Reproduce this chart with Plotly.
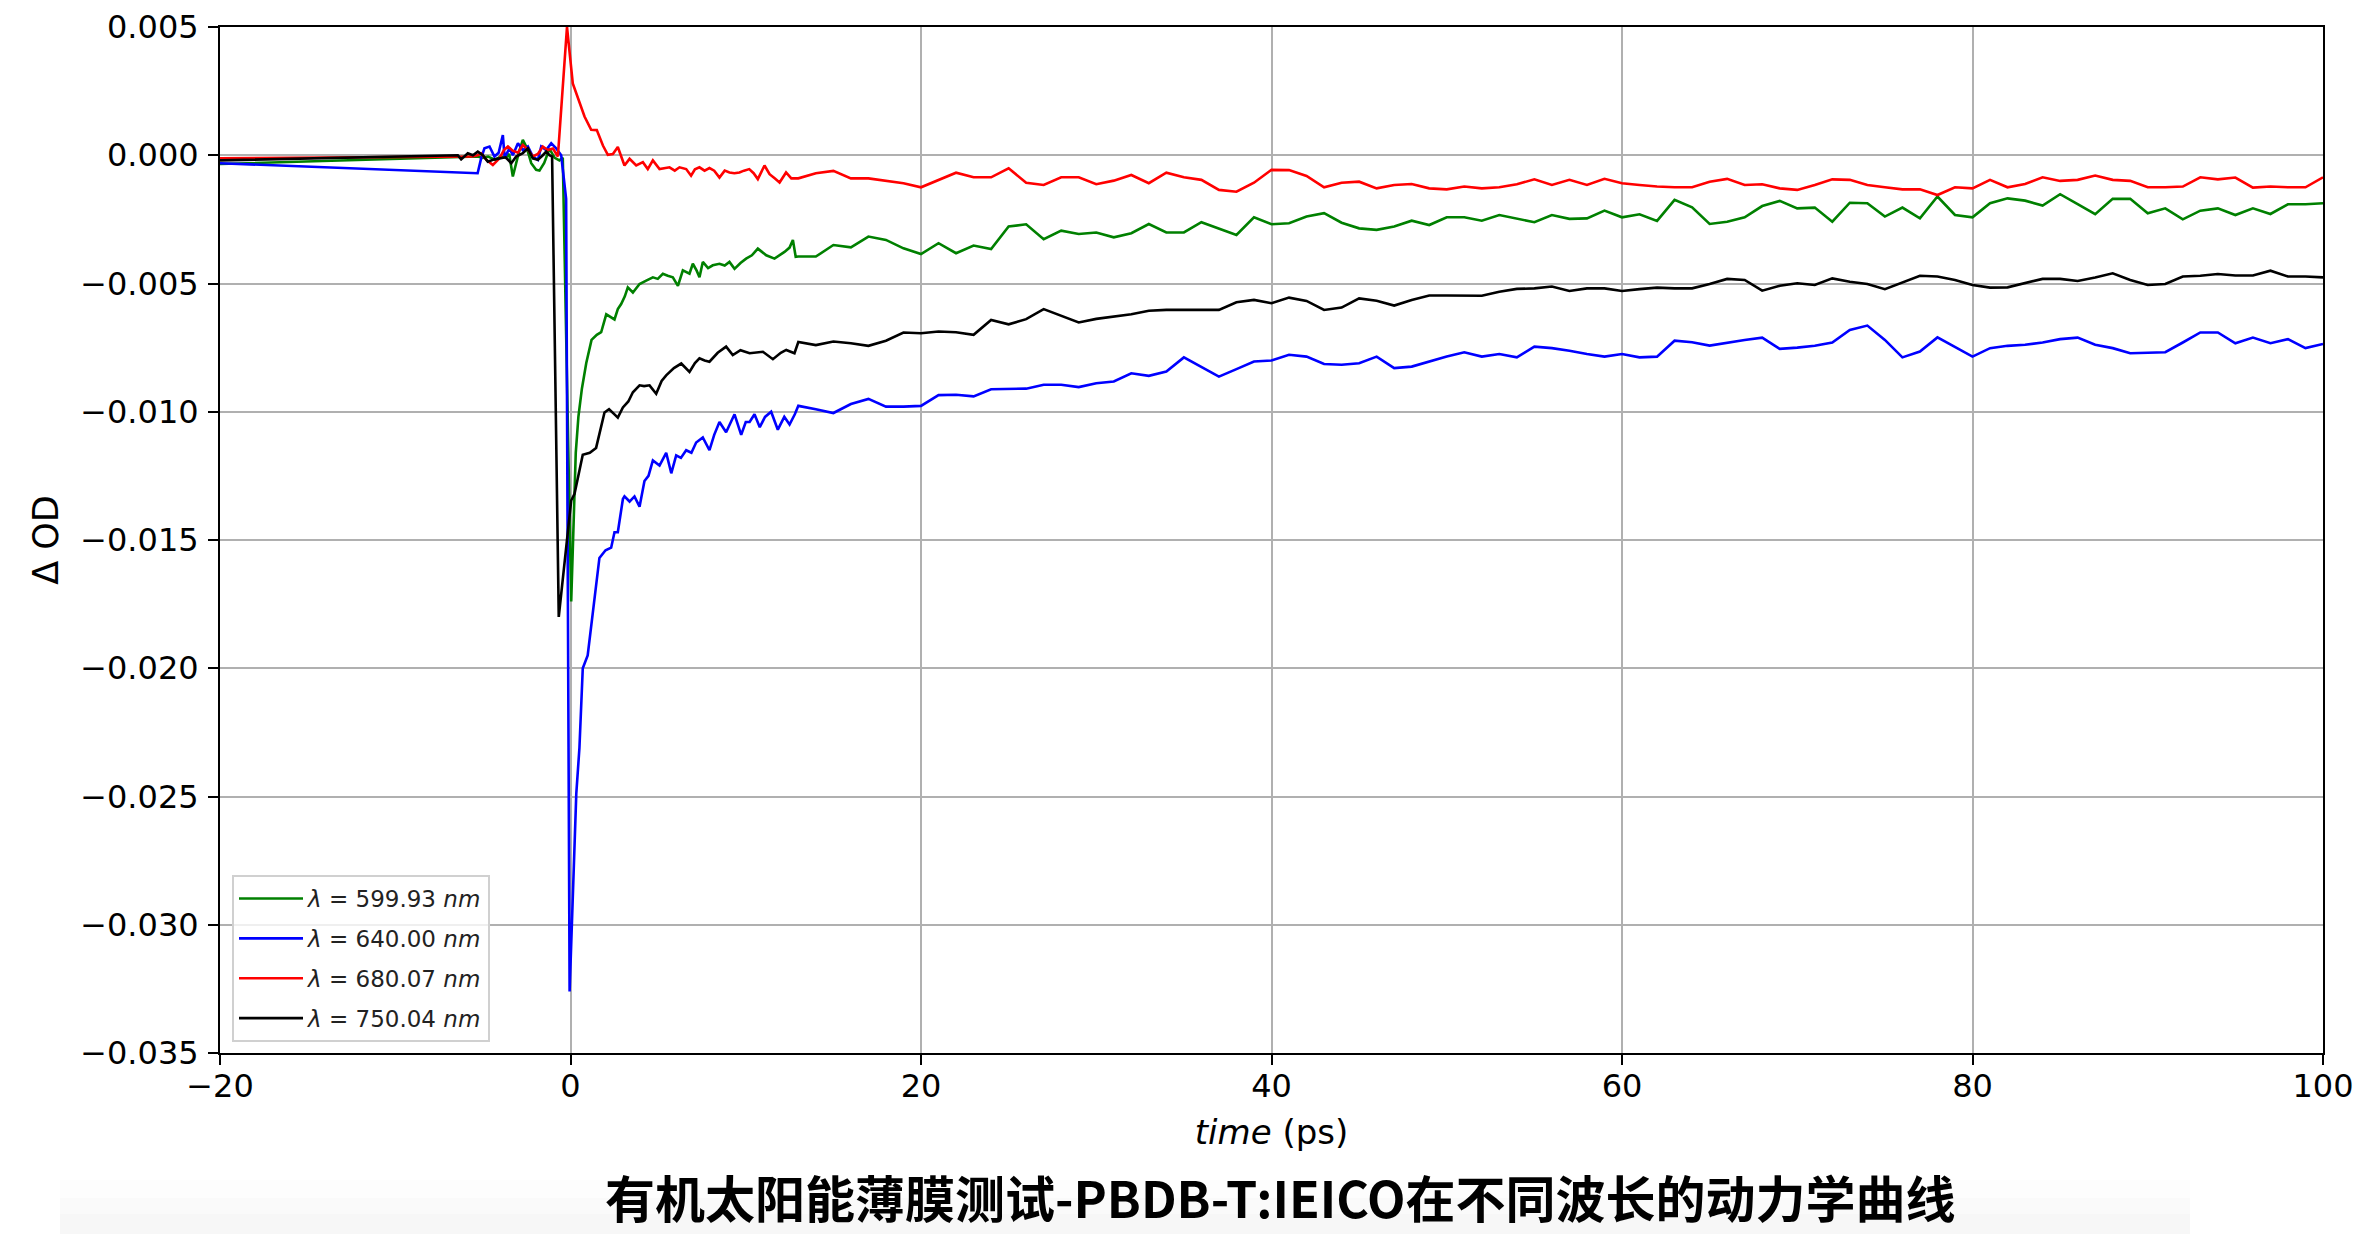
import plotly.graph_objects as go

# ---------------- data ----------------
tail_time = list(range(13, 101))

# lambda = 599.93 nm (green)
green_time_early = [-20, -5.6, -5.3, -5.0, -4.7, -4.3, -4.0, -3.7, -3.5, -3.29, -3.1, -2.95, -2.72, -2.5, -2.24,
                    -1.96, -1.77, -1.5, -1.2, -0.9, -0.63, -0.44, 0.04, 0.15, 0.3, 0.45, 0.65, 0.9, 1.2, 1.5,
                    1.75, 2.04, 2.3, 2.51, 2.7, 2.89, 3.1, 3.27, 3.56, 3.94, 4.32, 4.7, 4.98, 5.27, 5.55, 5.84,
                    6.13, 6.41, 6.79, 6.98, 7.2, 7.36, 7.55, 7.85, 8.12, 8.5, 8.8, 9.07, 9.36, 9.7, 10.02, 10.35,
                    10.69, 11.17, 11.64, 12.21, 12.5, 12.69, 12.85]
green_od_early = [-0.00034, -0.00008, -0.00005, -0.0001, -0.00005, -0.00018, -0.00005, -0.0001, 0.00005, -0.00083,
                  -0.0003, 0.0001, 0.0006, 0.0003, -0.00031, -0.00057, -0.0006, -0.0003, 0.00025, -0.0001, -0.0002,
                  -0.0001, -0.0174, -0.0150, -0.0116, -0.0102, -0.0091, -0.0081, -0.0072, -0.0070, -0.0069, -0.0062,
                  -0.0063, -0.0064, -0.0060, -0.0058, -0.0055, -0.00515, -0.00535, -0.00502, -0.00489, -0.00476,
                  -0.00482, -0.00462, -0.0047, -0.00476, -0.00509, -0.00449, -0.00462, -0.00423, -0.0045, -0.00476,
                  -0.00416, -0.0044, -0.00429, -0.00423, -0.0043, -0.00416, -0.00443, -0.0042, -0.00403, -0.0039,
                  -0.00364, -0.0039, -0.00403, -0.00377, -0.0036, -0.0033, -0.00396]
green_od_tail = [-0.00395, -0.00395, -0.0035, -0.00359, -0.00317, -0.0033, -0.00363, -0.00385, -0.00343, -0.00382,
                 -0.00352, -0.00366, -0.00278, -0.00269, -0.00327, -0.00294, -0.00307, -0.00301, -0.0032, -0.00304,
                 -0.00268, -0.00301, -0.00301, -0.00261, -0.00285, -0.00311, -0.00242, -0.00269, -0.00265, -0.00239,
                 -0.00226, -0.00263, -0.00285, -0.00291, -0.00278, -0.00255, -0.00272, -0.00242, -0.00242, -0.00255,
                 -0.00233, -0.00246, -0.00261, -0.00233, -0.00248, -0.00246, -0.00216, -0.00242, -0.0023, -0.00256,
                 -0.00174, -0.00203, -0.00268, -0.00259, -0.00242, -0.00198, -0.00178, -0.00207, -0.00204, -0.00259,
                 -0.00185, -0.00187, -0.00239, -0.00204, -0.00246, -0.00161, -0.00233, -0.00242, -0.00187, -0.00168,
                 -0.00177, -0.00196, -0.00152, -0.00191, -0.0023, -0.0017, -0.0017, -0.00226, -0.00207, -0.0025,
                 -0.00216, -0.00207, -0.00233, -0.00207, -0.00229, -0.00191, -0.00191, -0.00187]

# lambda = 640.00 nm (blue)
blue_time_early = [-20, -5.3, -5.1, -4.91, -4.62, -4.34, -4.1, -3.86, -3.76, -3.48, -3.29, -3.0, -2.72, -2.43, -2.15,
                   -1.86, -1.67, -1.39, -1.1, -0.82, -0.53, -0.25, -0.05, 0.33, 0.51, 0.70, 0.98, 1.37, 1.65, 2.0,
                   2.32, 2.51, 2.70, 2.99, 3.08, 3.37, 3.65, 3.94, 4.22, 4.45, 4.70, 5.08, 5.46, 5.75, 6.03, 6.3,
                   6.6, 6.9, 7.17, 7.55, 7.93, 8.2, 8.5, 8.88, 9.36, 9.74, 10.0, 10.22, 10.5, 10.8, 11.1, 11.45,
                   11.83, 12.2, 12.5, 12.8]
blue_od_early = [-0.00031, -0.0007, -0.00012, 0.00027, 0.00034, -0.00005, 0.0001, 0.00079, -0.00008, 0.00027, 0.0,
                 0.00047, 0.0002, 0.00034, -0.00005, -0.00018, 0.00034, 0.0002, 0.00047, 0.00027, 0.0, -0.0017,
                 -0.0326, -0.0249, -0.0231, -0.0200, -0.0195, -0.0173, -0.0157, -0.0154, -0.0153, -0.0147, -0.0147,
                 -0.0134, -0.0133, -0.0135, -0.0133, -0.0137, -0.0127, -0.0125, -0.0119, -0.0121, -0.0116, -0.0124,
                 -0.0117, -0.0118, -0.0115, -0.0116, -0.0112, -0.0110, -0.0115, -0.0109, -0.0104, -0.0108, -0.0101,
                 -0.0109, -0.0104, -0.0104, -0.0101, -0.0106, -0.0102, -0.0100, -0.0107, -0.0102, -0.0105, -0.0101]
blue_od_tail = [-0.00977, -0.0099, -0.01005, -0.0097, -0.0095, -0.0098, -0.0098, -0.00977, -0.00935, -0.00934,
                -0.0094, -0.00912, -0.00912, -0.0091, -0.00895, -0.00895, -0.00904, -0.00889, -0.00882, -0.0085,
                -0.0086, -0.00843, -0.00788, -0.00824, -0.00863, -0.00834, -0.00804, -0.008, -0.00778, -0.00785,
                -0.00814, -0.00817, -0.00811, -0.00785, -0.0083, -0.00824, -0.00804, -0.00785, -0.00768, -0.00785,
                -0.00775, -0.00788, -0.00746, -0.00752, -0.00762, -0.00775, -0.00785, -0.00775, -0.00788, -0.00785,
                -0.00723, -0.00729, -0.00742, -0.0073, -0.0072, -0.00711, -0.00755, -0.0075, -0.00743, -0.0073,
                -0.00681, -0.00664, -0.0072, -0.00788, -0.00765, -0.0071, -0.00746, -0.00785, -0.00752, -0.00743,
                -0.00739, -0.0073, -0.00717, -0.00711, -0.00739, -0.00752, -0.00772, -0.00769, -0.00768, -0.0073,
                -0.00691, -0.00691, -0.00733, -0.00711, -0.00733, -0.00717, -0.00752, -0.00736]

# lambda = 680.07 nm (red)
red_time_early = [-20, -5.6, -5.3, -5.1, -4.8, -4.43, -4.05, -3.8, -3.57, -3.3, -3.0, -2.72, -2.43, -2.15, -1.86,
                  -1.58, -1.3, -1.0, -0.72, -0.2, 0.13, 0.5, 0.8, 1.18, 1.5, 1.85, 2.13, 2.42, 2.7, 3.08, 3.37,
                  3.75, 4.13, 4.41, 4.7, 5.08, 5.4, 5.65, 5.95, 6.22, 6.6, 6.88, 7.1, 7.36, 7.65, 7.93, 8.2, 8.5,
                  8.8, 9.07, 9.35, 9.64, 9.9, 10.2, 10.45, 10.69, 11.07, 11.36, 11.65, 11.93, 12.3, 12.6]
red_od_early = [-0.00012, -0.00005, 0.0, 0.00007, -0.00018, -0.00038, -0.00012, 0.0002, 0.00034, 0.00018, 0.0001,
                0.0004, 0.00022, -0.00005, 0.00005, 0.00034, 0.0002, 0.00026, -0.00005, 0.0050, 0.0028, 0.0021,
                0.00151, 0.00099, 0.00098, 0.00038, 0.00002, 0.00005, 0.00032, -0.0004, -0.00014, -0.0004, -0.00027,
                -0.00054, -0.0002, -0.00054, -0.0005, -0.00047, -0.0006, -0.00047, -0.00054, -0.0008, -0.00055,
                -0.00047, -0.0006, -0.0005, -0.0006, -0.00087, -0.0006, -0.00067, -0.0007, -0.00067, -0.0006,
                -0.00054, -0.0007, -0.00093, -0.0004, -0.00074, -0.0009, -0.00106, -0.00067, -0.0009]
red_od_tail = [-0.0009, -0.0007, -0.00061, -0.0009, -0.0009, -0.00099, -0.00109, -0.00125, -0.00096, -0.00068,
               -0.00086, -0.00086, -0.00051, -0.00107, -0.00116, -0.00086, -0.00086, -0.00113, -0.00099, -0.00077,
               -0.00109, -0.00068, -0.00086, -0.00096, -0.00135, -0.00142, -0.00107, -0.00057, -0.00058, -0.00081,
               -0.00125, -0.00107, -0.00103, -0.00129, -0.00116, -0.00112, -0.00129, -0.00133, -0.00122, -0.00129,
               -0.00125, -0.00113, -0.00094, -0.00116, -0.00096, -0.00116, -0.00092, -0.00109, -0.00116, -0.00122,
               -0.00125, -0.00125, -0.00103, -0.00092, -0.00116, -0.00113, -0.00129, -0.00135, -0.00116, -0.00094,
               -0.00096, -0.00116, -0.00125, -0.00133, -0.00133, -0.00155, -0.00125, -0.00129, -0.00096, -0.00125,
               -0.00112, -0.00086, -0.001, -0.00096, -0.00079, -0.00096, -0.001, -0.00125, -0.00125, -0.00122,
               -0.00086, -0.00094, -0.00087, -0.00126, -0.00122, -0.00125, -0.00125, -0.00086]

# lambda = 750.04 nm (black)
black_time_early = [-20, -6.43, -6.24, -6.05, -5.86, -5.57, -5.29, -5.0, -4.72, -4.34, -4.05, -3.7, -3.38, -3.1,
                    -2.72, -2.43, -2.15, -1.86, -1.58, -1.39, -1.2, -1.05, -0.67, 0.04, 0.23, 0.70, 1.1, 1.46, 1.94,
                    2.2, 2.51, 2.70, 2.99, 3.3, 3.56, 3.94, 4.2, 4.51, 4.89, 5.2, 5.46, 5.9, 6.32, 6.79, 7.1, 7.36,
                    7.65, 7.93, 8.4, 8.88, 9.26, 9.7, 10.22, 10.6, 10.98, 11.55, 12.0, 12.31, 12.78]
black_od_early = [-0.0002, 0.0, -0.00016, -0.00005, 0.00008, 0.0, 0.00014, 0.0, -0.00025, -0.00016, -0.00012,
                  -0.00008, -0.00031, -0.00005, 0.00008, 0.00027, -0.00012, -0.00018, 0.0, 0.00014, 0.0, -0.00005,
                  -0.0180, -0.01346, -0.0132, -0.01168, -0.0116, -0.01141, -0.01003, -0.0099, -0.0101, -0.01023,
                  -0.00983, -0.0096, -0.00924, -0.00897, -0.0090, -0.00897, -0.0093, -0.0088, -0.00858, -0.0083,
                  -0.00812, -0.00845, -0.0081, -0.00792, -0.0080, -0.00805, -0.0077, -0.00746, -0.00779, -0.0076,
                  -0.00772, -0.0077, -0.00766, -0.00795, -0.0077, -0.00759, -0.00772]
black_od_tail = [-0.00728, -0.0074, -0.00726, -0.00733, -0.00743, -0.00723, -0.00691, -0.00694, -0.00687, -0.0069,
                 -0.007, -0.00642, -0.00659, -0.00639, -0.006, -0.00626, -0.00652, -0.00638, -0.00629, -0.0062,
                 -0.00606, -0.00603, -0.00603, -0.00603, -0.00603, -0.00573, -0.00564, -0.00577, -0.00555, -0.00568,
                 -0.00603, -0.00594, -0.00558, -0.00567, -0.00586, -0.00564, -0.00547, -0.00547, -0.00548, -0.00548,
                 -0.00532, -0.00521, -0.00519, -0.00512, -0.00529, -0.00519, -0.00519, -0.00529, -0.00522, -0.00516,
                 -0.00519, -0.00519, -0.00502, -0.00482, -0.00486, -0.00528, -0.00509, -0.00499, -0.00506, -0.0048,
                 -0.00493, -0.00502, -0.00522, -0.00496, -0.0047, -0.00473, -0.00486, -0.00506, -0.00516, -0.00515,
                 -0.00499, -0.00482, -0.00482, -0.0049, -0.00477, -0.0046, -0.00486, -0.00506, -0.00502, -0.00473,
                 -0.0047, -0.00463, -0.00469, -0.00469, -0.0045, -0.00473, -0.00473, -0.00476]

series_names = ["<i>λ</i> = 599.93 <i>nm</i>", "<i>λ</i> = 640.00 <i>nm</i>",
                "<i>λ</i> = 680.07 <i>nm</i>", "<i>λ</i> = 750.04 <i>nm</i>"]
series_colors = ["green", "blue", "red", "black"]

y_tickvals = [0.005, 0.0, -0.005, -0.010, -0.015, -0.020, -0.025, -0.030, -0.035]
y_ticktext = ["0.005", "0.000", "\u22120.005", "\u22120.010", "\u22120.015", "\u22120.020",
              "\u22120.025", "\u22120.030", "\u22120.035"]
x_tickvals = [-20, 0, 20, 40, 60, 80, 100]
x_ticktext = ["\u221220", "0", "20", "40", "60", "80", "100"]

title_text = "有机太阳能薄膜测试-PBDB-T:IEICO在不同波长的动力学曲线"

# ---------------- figure ----------------
series = [
    (green_time_early, green_od_early, green_od_tail),
    (blue_time_early, blue_od_early, blue_od_tail),
    (red_time_early, red_od_early, red_od_tail),
    (black_time_early, black_od_early, black_od_tail),
]

fig = go.Figure()
for i, ((te, ve, vt), name, col) in enumerate(zip(series, series_names, series_colors)):
    assert len(te) == len(ve), (name, len(te), len(ve))
    assert len(vt) == len(tail_time), (name, len(vt))
    fig.add_trace(go.Scatter(
        x=te + tail_time, y=ve + vt, mode="lines", name=name, legendgroup=f"g{i}",
        line=dict(color=col, width=2.6), cliponaxis=True,
    ))

OFF = 8  # default page body margin
W, H = 2368 - OFF, 1234 - OFF
L, T = 220 - OFF, 27 - OFF
pw, ph = 2103, 1026
R, B = W - L - pw, H - T - ph


def px(X):  # page x -> paper x
    return (X - OFF - L) / pw


def py(Y):  # page y -> paper y
    return (T + ph - (Y - OFF)) / ph


tickfont = dict(family="DejaVu Sans", size=32, color="black")
axis_common = dict(
    showgrid=True, gridcolor="#b0b0b0", gridwidth=1.6,
    showline=True, linecolor="black", linewidth=2, mirror=True,
    ticks="outside", ticklen=10, tickwidth=2, tickcolor="black",
    zeroline=False, tickfont=tickfont,
)

fig.update_layout(
    width=W, height=H,
    margin=dict(l=L, r=R, t=T, b=B, autoexpand=False),
    paper_bgcolor="white", plot_bgcolor="white",
    showlegend=True,
    legend=dict(
        x=px(232), y=py(1042), xanchor="left", yanchor="bottom",
        bgcolor="rgba(255,255,255,0.8)", bordercolor="#d0d0d0", borderwidth=2,
        font=dict(family="DejaVu Sans", size=23, color="#222222"),
        tracegroupgap=7, itemwidth=64,
    ),
    xaxis=dict(
        range=[-20, 100], tickvals=x_tickvals, ticktext=x_ticktext, ticklabelstandoff=-6,
        title=dict(text="<i>time</i> (ps)", font=dict(family="DejaVu Sans", size=34, color="black"), standoff=16),
        **axis_common,
    ),
    yaxis=dict(
        range=[-0.035, 0.005], tickvals=y_tickvals, ticktext=y_ticktext, ticklabelstandoff=3,
        title=dict(text="Δ OD", font=dict(family="DejaVu Sans", size=35, color="black"), standoff=11),
        **axis_common,
    ),
)

# faint shadow band behind the caption
for y0, a in [(1180, 0.008), (1198, 0.010), (1214, 0.012)]:
    fig.add_shape(type="rect", xref="paper", yref="paper",
                  x0=px(60), x1=px(2190), y0=py(1234), y1=py(y0),
                  fillcolor=f"rgba(0,0,0,{a})", line=dict(width=0), layer="below")

fig.add_annotation(
    text="<b>" + title_text + "</b>", xref="paper", yref="paper",
    x=px(1280), y=py(1196), xanchor="center", yanchor="middle",
    showarrow=False, font=dict(family="Noto Sans CJK SC", size=50, color="black"),
)

fig.write_html("out.html")
